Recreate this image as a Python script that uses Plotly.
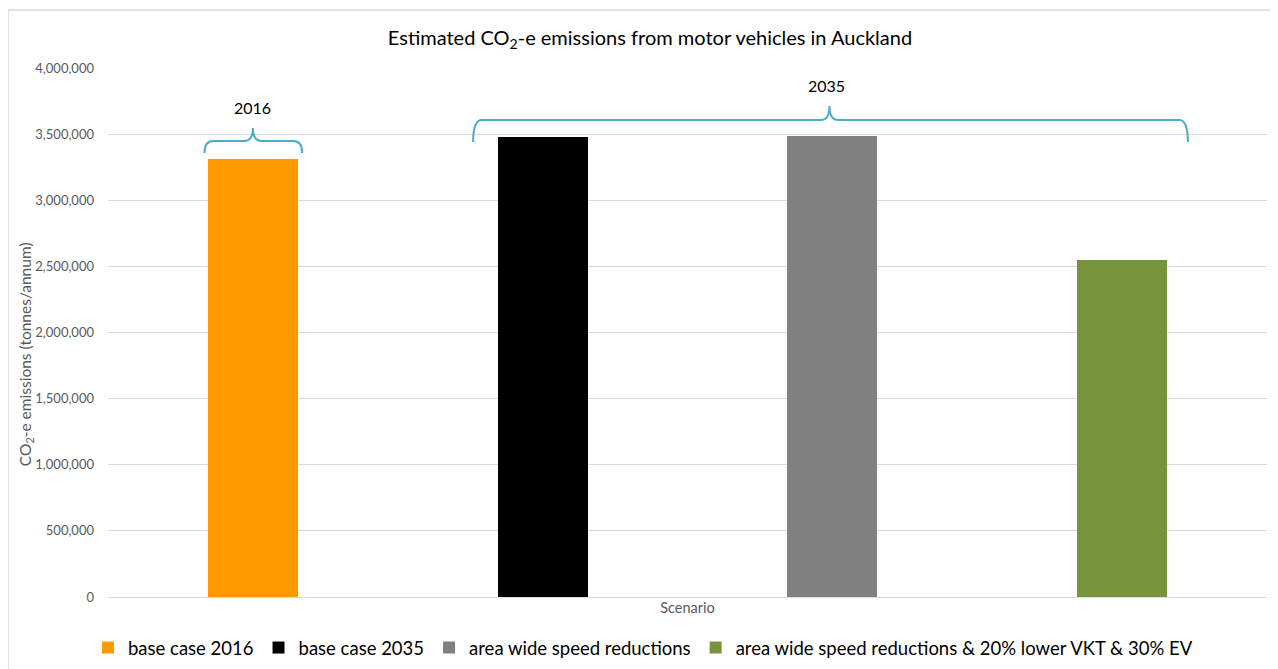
import plotly.graph_objects as go

# ---- data ----
scenarios = ["base case 2016", "base case 2035", "area wide speed reductions",
             "area wide speed reductions & 20% lower VKT & 30% EV"]
emissions = [3312000, 3478000, 3488000, 2548000]
colors = ["#FF9900", "#000000", "#808080", "#77933C"]
y_ticks = [0, 500000, 1000000, 1500000, 2000000, 2500000, 3000000, 3500000, 4000000]
group_labels = ["2016", "2035"]

fig = go.Figure()
for i, (name, val, col) in enumerate(zip(scenarios, emissions, colors)):
    fig.add_trace(go.Bar(x=[i], y=[val], name=name, marker_color=col,
                         marker_line_width=0, width=0.31, hoverinfo="skip"))

brace_col = "#4BACC6"


def brace(x0, x1, y_end, y_h, y_tip, xc=None):
    if xc is None:
        xc = (x0 + x1) / 2
    dx = 0.03
    return (f"M {x0},{y_end} Q {x0},{y_h} {x0+dx},{y_h} L {xc-dx},{y_h} "
            f"Q {xc},{y_h} {xc},{y_tip} Q {xc},{y_h} {xc+dx},{y_h} "
            f"L {x1-dx},{y_h} Q {x1},{y_h} {x1},{y_end}")


shapes = [
    dict(type="path", xref="x", yref="y",
         path=brace(-0.167, 0.170, 3357000, 3448000, 3546000, 0.0),
         line=dict(color=brace_col, width=2)),
    dict(type="path", xref="x", yref="y",
         path=brace(0.76, 3.227, 3440000, 3607000, 3713000, 1.99),
         line=dict(color=brace_col, width=2)),
    dict(type="rect", xref="paper", yref="paper", x0=-0.0863, x1=1.0066,
         y0=-0.15, y1=1.1096, line=dict(color="#D9D9D9", width=1.5),
         layer="below"),
]

annotations = [
    dict(x=0.0, y=3705000, xref="x", yref="y", text=group_labels[0],
         showarrow=False, font=dict(size=16, color="#000000")),
    dict(x=1.98, y=3871000, xref="x", yref="y", text=group_labels[1],
         showarrow=False, font=dict(size=16, color="#000000")),
    dict(x=-0.0708, y=0.459, xref="paper", yref="paper", textangle=-90,
         text="CO<sub>2</sub>-e emissions (tonnes/annum)", showarrow=False,
         xanchor="center", yanchor="middle",
         font=dict(size=15.5, color="#595959")),
]

W, H = 1270, 661  # page body margin offsets the figure by 8px

fig.update_layout(
    width=W, height=H,
    paper_bgcolor="white", plot_bgcolor="white",
    font=dict(family="Lato, 'Open Sans', sans-serif", color="#595959"),
    margin=dict(l=100, r=11, t=60, b=72),
    title=dict(text="Estimated CO<sub>2</sub>-e emissions from motor vehicles in Auckland",
               x=642 / W, xref="container", xanchor="center", y=1 - 30 / H,
               yanchor="middle", font=dict(size=20, color="#000000")),
    xaxis=dict(range=[-0.5, 3.5], showticklabels=False, showgrid=False,
               zeroline=False, showline=False, ticks="",
               title=dict(text="Scenario", font=dict(size=14.5, color="#595959"),
                          standoff=5)),
    yaxis=dict(range=[0, 4000000], tickvals=y_ticks, tickformat=",",
               gridcolor="#D9D9D9", gridwidth=1, zeroline=True,
               zerolinecolor="#D9D9D9", zerolinewidth=1, showline=False,
               tickfont=dict(size=13, color="#595959"), ticks="",
               ticklabelstandoff=13),
    legend=dict(orientation="h", x=0.5, xanchor="center", xref="container",
                y=21 / H, yref="container", yanchor="middle",
                font=dict(size=18.5, color="#000000"), itemwidth=30,
                traceorder="normal"),
    bargap=0, showlegend=True,
    shapes=shapes, annotations=annotations,
)

fig.write_html("out.html")
